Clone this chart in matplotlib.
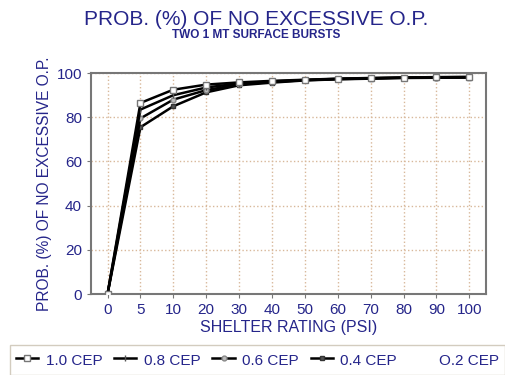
import matplotlib.pyplot as plt
import numpy as np

plt.rcParams['font.family'] = ['Liberation Sans', 'DejaVu Sans']

# shelter rating categories (evenly spaced on the chart)
ratings = ['0', '5', '10', '20', '30', '40', '50', '60', '70', '80', '90', '100']

# probability (%) of no excessive overpressure
cep_10 = [0, 86.5, 92.5, 94.8, 95.8, 96.5, 97.0, 97.5, 97.8, 98.0, 98.2, 98.3]
cep_08 = [0, 83.5, 90.0, 93.5, 95.3, 96.2, 96.9, 97.4, 97.7, 98.0, 98.1, 98.2]
cep_06 = [0, 79.5, 88.0, 92.3, 94.9, 96.0, 96.8, 97.3, 97.6, 97.9, 98.0, 98.1]
cep_04 = [0, 75.5, 85.0, 91.3, 94.5, 95.7, 96.7, 97.2, 97.5, 97.8, 97.9, 98.0]
cep_02 = [0, 87.0, 93.0, 95.0, 96.0, 96.7, 97.1, 97.6, 97.9, 98.1, 98.3, 98.4]

navy = '#25258a'

fig = plt.figure(figsize=(5.06, 3.75), dpi=100)
ax = fig.add_axes([0.180, 0.216, 0.780, 0.589])

x = np.arange(len(ratings))
ax.plot(x, cep_10, color='black', lw=1.8, marker='s', ms=4, mfc='white', mec='#777777', label='1.0 CEP', zorder=5)
ax.plot(x, cep_08, color='black', lw=1.8, marker='|', ms=5, mec='#555555', label='0.8 CEP', zorder=4)
ax.plot(x, cep_06, color='black', lw=1.8, marker='o', ms=3.5, mfc='#bbbbbb', mec='#888888', label='0.6 CEP', zorder=3)
ax.plot(x, cep_04, color='black', lw=1.8, marker='s', ms=3.5, mfc='#555555', mec='#333333', label='0.4 CEP', zorder=2)
ax.plot(x, cep_02, linestyle='none', label='O.2 CEP')

ax.set_xlim(-0.5, len(ratings) - 0.5)
ax.set_ylim(0, 100)
ax.set_xticks(x)
ax.set_xticklabels(ratings)
ax.set_yticks([0, 20, 40, 60, 80, 100])
ax.grid(True, color='#d8b89a', linestyle=':', lw=1)
ax.set_axisbelow(True)
for s in ax.spines.values():
    s.set_color('#777777')
    s.set_linewidth(1.5)
ax.tick_params(colors='#777777', labelcolor=navy, labelsize=11, length=3)

ax.set_xlabel('SHELTER RATING (PSI)', color=navy, fontsize=11.5, labelpad=2)
ax.set_ylabel('PROB. (%) OF NO EXCESSIVE O.P.', color=navy, fontsize=11.2, labelpad=3)

fig.text(0.506, 0.934, 'PROB. (%) OF NO EXCESSIVE O.P.', color=navy, fontsize=15, ha='center', va='baseline')
fig.text(0.506, 0.898, 'TWO 1 MT SURFACE BURSTS', color=navy, fontsize=8.5, fontweight='bold', ha='center', va='baseline')

leg = fig.legend(loc='upper left', bbox_to_anchor=(0.0198, 0.08), ncol=5, fontsize=11,
                 handlelength=1.45, handletextpad=0.5, columnspacing=0.77,
                 handleheight=1.4, borderaxespad=0, borderpad=0.4,
                 fancybox=False, edgecolor='#c8c0b0', frameon=True)
for t in leg.get_texts():
    t.set_color(navy)

fig.savefig('out.png', dpi=100)
